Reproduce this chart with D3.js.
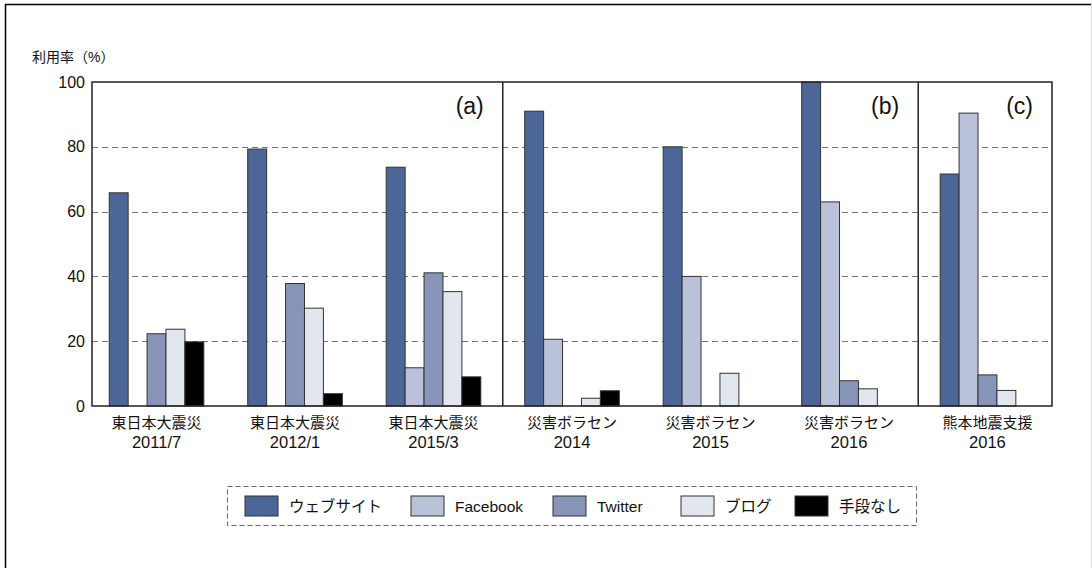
<!DOCTYPE html>
<html lang="ja">
<head>
<meta charset="UTF-8">
<script src="https://cdnjs.cloudflare.com/ajax/libs/d3/7.8.5/d3.min.js"></script>
<style>
  body { margin: 0; background: #fff; }
  svg text { font-family: "Liberation Sans", "Noto Sans CJK JP", sans-serif; fill: #111; }
</style>
</head>
<body>
<svg id="chart" width="1092" height="568"></svg>
<script>
// data
var categories = [
    ["東日本大震災", "2011/7"],
    ["東日本大震災", "2012/1"],
    ["東日本大震災", "2015/3"],
    ["災害ボラセン", "2014"],
    ["災害ボラセン", "2015"],
    ["災害ボラセン", "2016"],
    ["熊本地震支援", "2016"]
];
var seriesNames = ["ウェブサイト", "Facebook", "Twitter", "ブログ", "手段なし"];
var seriesColors = ["#4c6697", "#b9c2d8", "#8795b8", "#e2e6ef", "#000000"];
var website  = [65.8, 79.3, 73.7, 91.0, 80.0, 100, 71.6];
var facebook = [null, null, 11.8, 20.6, 40.0, 63.0, 90.4];
var twitter  = [22.3, 37.8, 41.1, null, null, 7.8, 9.6];
var blog     = [23.7, 30.2, 35.3, 2.4, 10.1, 5.3, 4.8];
var nothing  = [19.8, 3.8, 9.0, 4.7, null, null, null];
var yTicks = [0, 20, 40, 60, 80, 100];
var panelLabels = ["(a)", "(b)", "(c)"];
var panelEnds = [2, 5, 6];   // last category index of each panel

var allSeries = [website, facebook, twitter, blog, nothing];

var svg = d3.select("#chart");
var plotL = 92, plotR = 1052, plotT = 82, plotB = 406;

// outer frame
svg.append("line").attr("x1", 5.5).attr("x2", 5.5).attr("y1", 4).attr("y2", 568)
    .attr("stroke", "#000").attr("stroke-width", 1.5);
svg.append("line").attr("x1", 5).attr("x2", 1092).attr("y1", 4.5).attr("y2", 4.5)
    .attr("stroke", "#000").attr("stroke-width", 1.5);
svg.append("line").attr("x1", 1091.5).attr("x2", 1091.5).attr("y1", 4).attr("y2", 568)
    .attr("stroke", "#ddd").attr("stroke-width", 1);

var x = d3.scalePoint()
    .domain(d3.range(categories.length))
    .range([plotL, plotR])
    .padding(0.466);
var xs = d3.scaleBand()
    .domain(d3.range(seriesNames.length))
    .range([-47.3, 47.3]);
var y = d3.scaleLinear().domain([0, 100]).range([plotB, plotT]);

// dashed grid
svg.append("g").selectAll("line")
    .data(yTicks.filter(function (t) { return t > 0 && t < 100; }))
    .join("line")
    .attr("x1", plotL).attr("x2", plotR)
    .attr("y1", function (d) { return Math.round(y(d)) + 0.5; })
    .attr("y2", function (d) { return Math.round(y(d)) + 0.5; })
    .attr("stroke", "#777")
    .attr("stroke-width", 1)
    .attr("stroke-dasharray", "6,4");

// bars
allSeries.forEach(function (vals, s) {
    svg.append("g").selectAll("rect")
        .data(vals.map(function (v, i) { return {i: i, v: v}; })
            .filter(function (d) { return d.v !== null; }))
        .join("rect")
        .attr("x", function (d) { return x(d.i) + xs(s); })
        .attr("width", xs.bandwidth())
        .attr("y", function (d) { return y(d.v); })
        .attr("height", function (d) { return y(0) - y(d.v); })
        .attr("fill", seriesColors[s])
        .attr("stroke", "#333")
        .attr("stroke-width", 1);
});

// plot frame and panel separators
svg.append("rect")
    .attr("x", plotL).attr("y", plotT)
    .attr("width", plotR - plotL).attr("height", plotB - plotT)
    .attr("fill", "none").attr("stroke", "#222").attr("stroke-width", 1.5);
var sepX = panelEnds.slice(0, -1).map(function (e) { return (x(e) + x(e + 1)) / 2; });
svg.append("g").selectAll("line")
    .data(sepX)
    .join("line")
    .attr("x1", function (d) { return d; }).attr("x2", function (d) { return d; })
    .attr("y1", plotT).attr("y2", plotB)
    .attr("stroke", "#222").attr("stroke-width", 1.5);

// panel labels
var panelRight = sepX.concat([plotR]);
svg.append("g").selectAll("text")
    .data(panelLabels)
    .join("text")
    .attr("x", function (d, i) { return panelRight[i] - 19; })
    .attr("y", 114)
    .attr("text-anchor", "end")
    .attr("font-size", 23)
    .text(function (d) { return d; });

// y axis
var yAxis = svg.append("g")
    .attr("transform", "translate(" + plotL + ",0)")
    .call(d3.axisLeft(y).tickValues(yTicks).tickSize(0).tickPadding(7));
yAxis.select(".domain").remove();
yAxis.selectAll("text")
    .attr("font-size", 16)
    .style("font-family", "Liberation Sans, sans-serif")
    .attr("fill", "#111");

svg.append("text")
    .attr("x", 32).attr("y", 62)
    .attr("font-size", 14)
    .text("利用率（%）");

// category labels
var cat = svg.append("g").selectAll("text")
    .data(categories)
    .join("text")
    .attr("text-anchor", "middle")
    .attr("font-size", 15);
cat.append("tspan")
    .attr("x", function (d, i) { return x(i); })
    .attr("y", 428)
    .text(function (d) { return d[0]; });
cat.append("tspan")
    .attr("x", function (d, i) { return x(i); })
    .attr("y", 448)
    .attr("font-size", 16.5)
    .text(function (d) { return d[1]; });

// legend
svg.append("rect")
    .attr("x", 227.5).attr("y", 486.5)
    .attr("width", 689).attr("height", 39)
    .attr("fill", "none")
    .attr("stroke", "#666")
    .attr("stroke-dasharray", "5,3");
var legendX = [245, 411, 553, 681, 795];
var lg = svg.append("g").selectAll("g")
    .data(seriesNames)
    .join("g")
    .attr("transform", function (d, i) { return "translate(" + legendX[i] + ",496)"; });
lg.append("rect")
    .attr("width", 33).attr("height", 20)
    .attr("fill", function (d, i) { return seriesColors[i]; })
    .attr("stroke", "#333");
lg.append("text")
    .attr("x", 44).attr("y", 16)
    .attr("font-size", 15.5)
    .text(function (d) { return d; });
</script>
</body>
</html>
